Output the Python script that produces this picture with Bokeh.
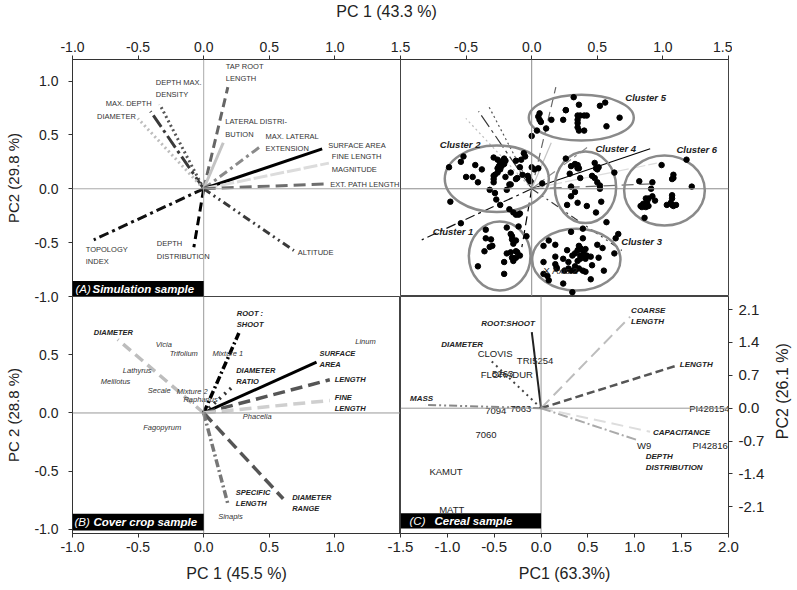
import math
from bokeh.plotting import figure
from bokeh.models import (Span, Label, BoxAnnotation, FixedTicker, Range1d,
                          ColumnDataSource, NumeralTickFormatter)
from bokeh.layouts import column, row
from bokeh.embed import file_html
from bokeh.resources import INLINE
from bokeh.core.properties import value

FONT = "Liberation Sans"

# ---------------- DATA ----------------
# (A) Simulation sample - variable loadings
a_vars = ["TAP ROOT\nLENGTH", "DEPTH MAX.\nDENSITY", "MAX. DEPTH", "DIAMETER",
          "LATERAL DISTRI-\nBUTION", "MAX. LATERAL\nEXTENSION", "SURFACE AREA",
          "FINE LENGTH\nMAGNITUDE", "EXT. PATH LENGTH", "ALTITUDE",
          "DEPTH\nDISTRIBUTION", "TOPOLOGY\nINDEX"]
a_pc1 = [0.184, -0.335, -0.405, -0.502, 0.149, 0.433, 0.903, 0.954, 0.941, 0.687, -0.075, -0.838]
a_pc2 = [0.943, 0.783, 0.718, 0.653, 0.427, 0.393, 0.371, 0.238, 0.046, -0.573, -0.542, -0.474]

# Cluster panel - individual scores per cluster
cl1_x = [-0.35, -0.35, -0.31, -0.32, -0.30, -0.36, -0.41, -0.21, -0.19, -0.16, -0.15, -0.15, -0.12,
         -0.14, -0.19, -0.16, -0.12, -0.11, -0.09, -0.12, -0.15, -0.21, -0.14, -0.10, -0.04, -0.54]
cl1_y = [-0.38, -0.46, -0.47, -0.54, -0.53, -0.58, -0.72, -0.79, -0.36, -0.42, -0.44, -0.47, -0.48,
         -0.51, -0.60, -0.59, -0.58, -0.59, -0.62, -0.64, -0.64, -0.68, -0.67, -0.35, -0.44, -0.32]
cl2_x = [-0.63, -0.54, -0.52, -0.43, -0.38, -0.29, -0.26, -0.24, -0.23, -0.21, -0.20, -0.24, -0.26,
         -0.28, -0.29, -0.12, -0.08, -0.06, -0.05, -0.09, -0.07, -0.03, 0.00, 0.02, 0.05, -0.50,
         -0.45, -0.16, -0.11, -0.41, -0.29, -0.29, -0.32, -0.28, -0.27, -0.24, -0.19, -0.17, -0.12,
         -0.17, -0.14, -0.12, -0.10, -0.09, -0.62, -0.02, -0.01, 0.08, -0.25, -0.26, -0.22, -0.21,
         -0.16, -0.20]
cl2_y = [0.20, 0.25, 0.30, 0.22, 0.18, 0.29, 0.27, 0.24, 0.21, 0.23, 0.26, 0.18, 0.15, 0.13, 0.12,
         0.26, 0.27, 0.33, 0.30, 0.20, 0.13, 0.12, 0.20, 0.18, 0.19, 0.11, 0.11, 0.15, 0.10, 0.06,
         0.09, 0.06, -0.01, -0.04, -0.10, -0.15, -0.01, 0.04, 0.09, -0.19, -0.22, -0.24, -0.24,
         -0.23, -0.12, 0.09, 0.07, 0.05, 0.21, 0.19, 0.26, 0.28, 0.04, 0.11]
cl3_x = [0.30, 0.39, 0.13, 0.18, 0.09, 0.09, 0.18, 0.24, 0.18, 0.19, 0.12, 0.24, 0.36, 0.37, 0.35,
         0.39, 0.41, 0.33, 0.31, 0.37, 0.40, 0.42, 0.45, 0.37, 0.35, 0.41, 0.51, 0.55, 0.46, 0.41,
         0.39, 0.45, 0.50, 0.54, 0.63, 0.39, 0.27, 0.28, 0.30, 0.33, 0.13, 0.31, 0.66, 0.64, 0.19,
         0.25, 0.28, 0.33, 0.36, 0.09, 0.57]
cl3_y = [-0.40, -0.37, -0.48, -0.52, -0.53, -0.68, -0.63, -0.65, -0.70, -0.73, -0.81, -0.88, -0.53,
         -0.55, -0.57, -0.57, -0.56, -0.60, -0.62, -0.62, -0.61, -0.62, -0.63, -0.65, -0.67, -0.65,
         -0.64, -0.76, -0.71, -0.77, -0.76, -0.84, -0.52, -0.55, -0.60, -0.46, -0.57, -0.68, -0.76,
         -0.72, -0.85, -0.96, -0.42, -0.46, -0.74, -0.76, -0.74, -0.76, -0.74, -0.79, -0.31]
cl4_x = [0.26, 0.33, 0.35, 0.35, 0.36, 0.35, 0.30, 0.29, 0.37, 0.48, 0.49, 0.50, 0.51, 0.46, 0.48,
         0.50, 0.52, 0.52, 0.33, 0.30, 0.30, 0.35, 0.27, 0.42, 0.53, 0.49, 0.63]
cl4_y = [0.28, 0.23, 0.22, 0.20, 0.19, 0.19, 0.21, 0.14, 0.10, 0.24, 0.19, 0.18, 0.20, 0.12, 0.10,
         0.06, 0.03, 0.00, -0.03, 0.02, -0.07, -0.13, -0.15, -0.16, -0.12, -0.22, 0.15]
cl5_x = [0.32, 0.36, 0.52, 0.56, 0.67, 0.57, 0.35, 0.37, 0.40, 0.42, 0.35, 0.35, 0.35, 0.36, 0.40,
         0.26, 0.06, 0.05, 0.06, 0.07, 0.15, 0.24, 0.26, 0.11, 0.04, 0.00]
cl5_y = [0.85, 0.78, 0.77, 0.80, 0.66, 0.58, 0.68, 0.68, 0.68, 0.68, 0.64, 0.61, 0.57, 0.54, 0.54,
         0.73, 0.70, 0.67, 0.64, 0.62, 0.64, 0.64, 0.73, 0.56, 0.54, 0.49]
cl6_x = [0.82, 0.92, 1.07, 1.22, 0.91, 0.87, 0.89, 0.88, 0.85, 0.83, 0.84, 0.87, 0.89, 0.92, 0.94,
         1.07, 1.07, 1.03, 1.07, 1.08, 1.10, 1.06, 0.86, 0.99, 1.08, 1.08, 1.18]
cl6_y = [0.07, 0.06, 0.09, 0.02, 0.00, -0.09, -0.09, -0.12, -0.14, -0.16, -0.17, -0.17, -0.16,
         -0.07, -0.11, -0.06, -0.09, -0.15, -0.15, -0.16, -0.15, -0.13, -0.27, 0.22, 0.13, 0.10, 0.27]

cluster_names = ["Cluster 1", "Cluster 2", "Cluster 3", "Cluster 4", "Cluster 5", "Cluster 6"]
cluster_cx = [-0.244, -0.266, 0.340, 0.410, 0.378, 1.012]
cluster_cy = [-0.624, 0.093, -0.658, 0.014, 0.660, -0.016]
cluster_w = [0.470, 0.793, 0.673, 0.467, 0.800, 0.615]
cluster_h = [0.641, 0.619, 0.573, 0.665, 0.424, 0.650]

# (B) Cover crop sample
b_vars = ["DIAMETER", "ROOT :\nSHOOT", "DIAMETER\nRATIO", "SURFACE\nAREA", "LENGTH",
          "FINE\nLENGTH", "DIAMETER\nRANGE", "SPECIFIC\nLENGTH"]
b_pc1 = [-0.655, 0.268, 0.217, 0.860, 0.961, 0.961, 0.606, 0.184]
b_pc2 = [0.631, 0.686, 0.222, 0.436, 0.285, 0.107, -0.737, -0.780]
b_species = ["Vicia", "Trifolium", "Lathyrus", "Melilotus", "Secale", "Mixture 2", "Raphanus",
             "Mixture 1", "Linum", "Phacelia", "Fagopyrum", "Sinapis"]
b_sp_pc1 = [-0.304, -0.152, -0.507, -0.672, -0.339, -0.088, -0.024, 0.184, 1.233, 0.408, -0.316, 0.204]
b_sp_pc2 = [0.586, 0.509, 0.365, 0.273, 0.193, 0.185, 0.113, 0.509, 0.617, -0.030, -0.127, -0.889]

# (C) Cereal sample
c_vars = ["ROOT:SHOOT", "COARSE\nLENGTH", "LENGTH", "CAPACITANCE", "DEPTH\nDISTRIBUTION",
          "MASS", "DIAMETER"]
c_pc1 = [-0.099, 0.95, 1.448, 1.163, 1.021, -1.238, -0.544]
c_pc2 = [1.62, 1.95, 0.908, -0.50, -0.676, 0.07, 1.03]
c_cultivars = ["CLOVIS", "TRI5254", "FLORADUR", "5263", "7094", "7063", "7060", "KAMUT", "MATT",
               "W9", "PI428154", "PI428165"]
c_cv_pc1 = [-0.491, -0.064, -0.366, -0.41, -0.483, -0.217, -0.587, -1.014, -0.953, 1.099, 1.797, 1.832]
c_cv_pc2 = [1.157, 1.008, 0.725, 0.725, -0.058, -0.021, -0.569, -1.352, -2.168, -0.797, 0.0, -0.797]

# Tick values
top_a_ticks = [-1.0, -0.5, 0.0, 0.5, 1.0, 1.5]
top_cl_ticks = [-0.5, 0.0, 0.5, 1.0, 1.5]
left_a_ticks = [1.0, 0.5, 0.0, -0.5, -1.0]
left_b_ticks = [0.5, 0.0, -0.5, -1.0]
bottom_b_ticks = [-1.0, -0.5, 0.0, 0.5, 1.0]
bottom_c_ticks = [-1.5, -1.0, -0.5, 0.0, 0.5, 1.0, 1.5, 2.0]
right_c_ticks = [2.1, 1.4, 0.7, 0.0, -0.7, -1.4, -2.1]

# ---------------- STYLES / LAYOUT ----------------
a_styles = [("#666666", "9 5", 3), ("#555555", "2 3", 3), ("#3a3a3a", "14 4 3 4", 3),
            ("#bdbdbd", "2 3", 3), ("#c4c4c4", "solid", 3), ("#8a8a8a", "9 4 3 4", 3),
            ("#000000", "solid", 3), ("#dcdcdc", "14 3", 3), ("#6e6e6e", "12 6", 3),
            ("#3a3a3a", "8 4 2 4 2 4", 3), ("#000000", "9 5", 3), ("#111111", "10 4 3 4", 3)]
a_lab = [(-2, -4, "left", "bottom"), (-4, -5, "left", "bottom"), (1, -8, "right", "middle"),
         (-2, -2, "right", "middle"), (2, -4, "left", "bottom"), (5, -4, "left", "middle"),
         (6, -3, "left", "middle"), (3, 0, "left", "middle"), (3, 1, "left", "middle"),
         (4, 2, "left", "middle"), (-37, -8, "left", "top"), (-8, 5, "left", "top")]

b_styles = [("#bdbdbd", "10 6", 3.5), ("#000000", "8 3 2 3", 3.5), ("#333333", "2 5", 3.5),
            ("#000000", "solid", 3), ("#555555", "12 6", 3.5), ("#cfcfcf", "12 6", 3.5),
            ("#555555", "12 6", 3.5), ("#777777", "8 3 2 3", 3.5)]
b_lab = [(-24, -7, "left", "middle"), (-2, -4, "left", "bottom"), (4, -11, "left", "middle"),
         (3, -3, "left", "middle"), (5, 0, "left", "middle"), (5, 2.5, "left", "middle"),
         (9, 4, "left", "middle"), (8, -6, "left", "middle")]

c_styles = [("#222222", "solid", 2), ("#bdbdbd", "12 6", 2), ("#555555", "8 4", 2.5),
            ("#dddddd", "12 6", 2), ("#aaaaaa", "10 3 2 3", 2), ("#888888", "8 3 2 3 2 3", 2),
            ("#444444", "2 4", 2)]
c_lab = [(3, -9, "right", "middle"), (1, -1, "left", "middle"), (3, -1, "left", "middle"),
         (3, 1, "left", "middle"), (9, 22, "left", "middle"), (-15, -6, "left", "middle"),
         (-7, -15, "right", "middle")]

cluster_lab = [(-67, -24.5), (-57, -34), (45, -18), (10, -38.5), (44, -20.5), (12, -41)]

FW, FH = 328, 237
A_XR, A_YR = (-1.0, 1.5), (-1.0, 1.2)
CL_XR = (-1.0, 1.5)
B_XR, B_YR = (-1.0, 1.5), (-1.035, 1.0)
C_XR, C_YR = (-1.5, 2.0), (-2.67, 2.38)


def make_fig(xr, yr, left, right, top, bottom, xloc, yloc, margin=None):
    kw = dict(x_range=Range1d(*xr), y_range=Range1d(*yr), frame_width=FW, frame_height=FH,
              min_border_left=left, min_border_right=right, min_border_top=top,
              min_border_bottom=bottom, toolbar_location=None, output_backend="svg",
              x_axis_location=xloc, y_axis_location=yloc, border_fill_alpha=0,
              background_fill_color="white", outline_line_color="#444444", outline_line_width=1)
    if margin is not None:
        kw["margin"] = margin
    p = figure(**kw)
    p.grid.visible = False
    return p


def style_axis(ax, ticks, size, standoff=2, label=None, label_size="16px", label_standoff=5):
    ax.ticker = FixedTicker(ticks=ticks)
    ax.formatter = NumeralTickFormatter(format="0.0")
    ax.major_label_text_font = FONT
    ax.major_label_text_font_size = size
    ax.major_label_text_color = "#222222"
    ax.axis_line_color = "#333333"
    ax.major_tick_line_color = "#333333"
    ax.major_tick_out = 4
    ax.major_tick_in = 0
    ax.minor_tick_line_color = None
    ax.major_label_standoff = standoff
    if label:
        ax.axis_label = label
        ax.axis_label_text_font = FONT
        ax.axis_label_text_font_size = label_size
        ax.axis_label_text_font_style = "normal"
        ax.axis_label_text_color = "#222222"
        ax.axis_label_standoff = label_standoff


def zero_lines(p, color="#999999"):
    p.add_layout(Span(location=0, dimension="width", line_color=color, line_width=1))
    p.add_layout(Span(location=0, dimension="height", line_color=color, line_width=1))


def vectors(p, names, xs, ys, styles, lay=None, size="7.5px", style="normal",
            color="#333333", lw_scale=1.0, line_height=1.2):
    for i in range(len(names)):
        col, dash, w = styles[i]
        src = ColumnDataSource(dict(x0=[0.0], y0=[0.0], x1=[xs[i]], y1=[ys[i]], t=[names[i]]))
        p.segment("x0", "y0", "x1", "y1", source=src, line_color=col, line_dash=dash,
                  line_width=w * lw_scale)
        if lay is not None:
            dx, dy, al, bl = lay[i]
            p.text("x1", "y1", text="t", source=src, x_offset=dx, y_offset=dy, text_align=al,
                   text_baseline=bl, text_font=value(FONT), text_font_size=size,
                   text_font_style=style, text_color=color, text_line_height=line_height)


def panel_tag(p, left, bottom, top, tag, name, off1, off2):
    p.add_layout(BoxAnnotation(left=left, right=0.0, bottom=bottom, top=top,
                               fill_color="black", fill_alpha=1.0, line_color=None))
    mid = (bottom + top) / 2
    p.add_layout(Label(x=left, y=mid, x_offset=off1, text=tag, text_color="white",
                       text_font=FONT, text_font_size="11.5px", text_font_style="italic",
                       text_baseline="middle"))
    p.add_layout(Label(x=left, y=mid, x_offset=off2, text=name, text_color="white",
                       text_font=FONT, text_font_size="11.5px", text_font_style="bold italic",
                       text_baseline="middle"))


def text_strip(width, height, text, x, y, angle=0.0, margin=None):
    kw = dict(width=width, height=height, x_range=Range1d(0, width), y_range=Range1d(0, height),
              min_border=0, toolbar_location=None, output_backend="svg",
              outline_line_color=None, border_fill_alpha=0, background_fill_alpha=0)
    if margin is not None:
        kw["margin"] = margin
    s = figure(**kw)
    s.axis.visible = False
    s.grid.visible = False
    s.add_layout(Label(x=x, y=y, angle=angle, text=text, text_align="center",
                       text_baseline="middle", text_font=FONT, text_font_size="16px",
                       text_color="#222222"))
    return s


# ---------------- TITLE STRIP ----------------
T = text_strip(790, 31, "PC 1 (43.3 %)", 386, 20)

# ---------------- PANEL A ----------------
A = make_fig(A_XR, A_YR, 72, 14, 28, 8, "above", "left")
style_axis(A.xaxis[0], top_a_ticks, "14px", standoff=4)
style_axis(A.yaxis[0], left_a_ticks, "14px", 10, "PC2 (29.8 %)", "15px", 9)
zero_lines(A, "#aaaaaa")
vectors(A, a_vars, a_pc1, a_pc2, a_styles, a_lab, size="7.5px", style="normal",
        color="#333333", line_height=1.4)
panel_tag(A, A_XR[0], A_YR[0], -0.855, "(A)", "Simulation sample", 3, 20)

# ---------------- CLUSTER PANEL ----------------
CL = make_fig(CL_XR, A_YR, 0, 4, 28, 0, "above", None, margin=(0, 0, 0, -14))
style_axis(CL.xaxis[0], top_cl_ticks, "14px", standoff=4)
zero_lines(CL, "#8c8c8c")
vectors(CL, a_vars, a_pc1, a_pc2, a_styles, None, lw_scale=0.4)
CL.ellipse(x=cluster_cx, y=cluster_cy, width=cluster_w, height=cluster_h, fill_color=None,
           line_color="#8a8a8a", line_width=2.5)
for xs, ys in [(cl1_x, cl1_y), (cl2_x, cl2_y), (cl3_x, cl3_y), (cl4_x, cl4_y),
               (cl5_x, cl5_y), (cl6_x, cl6_y)]:
    CL.scatter(x=xs, y=ys, size=5.5, color="black")
for i, nm in enumerate(cluster_names):
    dx, dy = cluster_lab[i]
    CL.text(x=[cluster_cx[i]], y=[cluster_cy[i]], text=[nm], x_offset=dx, y_offset=dy,
            text_align="left", text_baseline="middle", text_font=value(FONT),
            text_font_size="9.5px", text_font_style="bold italic", text_color="#222222")
CL.add_layout(Label(x=0.09, y=-0.76, text="X Axis 2", text_font=FONT, text_font_size="9.5px",
                    text_color="#222222", text_baseline="middle"))

# ---------------- PANEL B ----------------
B = make_fig(B_XR, B_YR, 72, 0, 0, 56, "below", "left", margin=(-8, 0, 0, 0))
style_axis(B.xaxis[0], bottom_b_ticks, "14px", 4, "PC 1 (45.5 %)", "16px", 10)
style_axis(B.yaxis[0], left_b_ticks, "14px", 10, "PC 2 (28.8 %)", "15px", 9)
zero_lines(B, "#999999")
vectors(B, b_vars, b_pc1, b_pc2, b_styles, b_lab, size="7.5px", style="bold italic",
        color="#222222", line_height=1.2)
B.text(x=b_sp_pc1, y=b_sp_pc2, text=b_species, text_align="center", text_baseline="middle",
       text_font=value(FONT), text_font_size="7.5px", text_font_style="italic",
       text_color="#333333")
panel_tag(B, B_XR[0], -1.01, -0.865, "(B)", "Cover crop sample", 2, 21)

# ---------------- PANEL C ----------------
C = make_fig(C_XR, C_YR, 14, 43, 0, 56, "below", "right", margin=(-8, 0, 0, -14))
style_axis(C.xaxis[0], bottom_c_ticks, "15px", 4, "PC1 (63.3%)", "16px", 10)
style_axis(C.yaxis[0], right_c_ticks, "15px", 6)
zero_lines(C, "#999999")
vectors(C, c_vars, c_pc1, c_pc2, c_styles, c_lab, size="8px", style="bold italic",
        color="#222222", line_height=1.2)
C.text(x=c_cv_pc1, y=c_cv_pc2, text=c_cultivars, text_align="center", text_baseline="middle",
       text_font=value(FONT), text_font_size="9.5px", text_color="#222222")
panel_tag(C, C_XR[0], -2.563, -2.237, "(C)", "Cereal sample", 9, 34)

# right-hand axis title of panel C (reads bottom-to-top)
D = text_strip(22, FH, "PC2 (26.1 %)", 11, 113, angle=math.pi / 2, margin=(-8, 0, 0, 0))

layout = column(T, row(A, CL), row(B, C, D))
open("out.html", "w").write(file_html(layout, INLINE))
